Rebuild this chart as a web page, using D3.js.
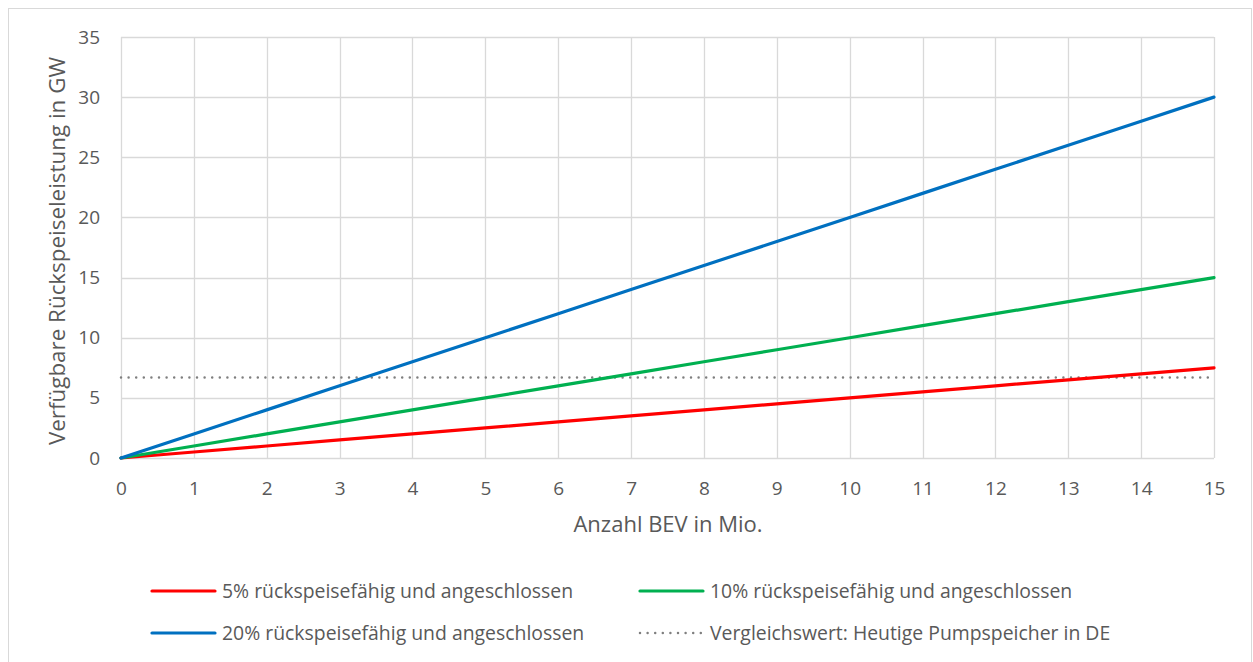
<!DOCTYPE html>
<html>
<head>
<meta charset="utf-8">
<script src="https://cdn.jsdelivr.net/npm/d3@7"></script>
<style>
  html, body { margin: 0; padding: 0; background: #fff; }
  svg { display: block; }
  text { font-family: "Open Sans", "Noto Sans", sans-serif; fill: #595959; }
</style>
</head>
<body>
<svg id="chart" width="1253" height="662"></svg>
<script>
// ---- Data ----
const xValues = [0, 1, 2, 3, 4, 5, 6, 7, 8, 9, 10, 11, 12, 13, 14, 15];
const series5 = [0, 0.5, 1, 1.5, 2, 2.5, 3, 3.5, 4, 4.5, 5, 5.5, 6, 6.5, 7, 7.5];
const series10 = [0, 1, 2, 3, 4, 5, 6, 7, 8, 9, 10, 11, 12, 13, 14, 15];
const series20 = [0, 2, 4, 6, 8, 10, 12, 14, 16, 18, 20, 22, 24, 26, 28, 30];
const referenceValue = 6.7;
const seriesNames = [
  "5% rückspeisefähig und angeschlossen",
  "10% rückspeisefähig und angeschlossen",
  "20% rückspeisefähig und angeschlossen",
  "Vergleichswert: Heutige Pumpspeicher in DE"
];
const xTicks = [0, 1, 2, 3, 4, 5, 6, 7, 8, 9, 10, 11, 12, 13, 14, 15];
const yTicks = [0, 5, 10, 15, 20, 25, 30, 35];
const xTitle = "Anzahl BEV in Mio.";
const yTitle = "Verfügbare Rückspeiseleistung in GW";

// ---- Layout ----
const svg = d3.select("#chart");
const W = 1253, H = 662;
const plot = { left: 121, right: 1214, top: 37, bottom: 458 };

svg.append("rect")
  .attr("x", 8.5).attr("y", 8.5)
  .attr("width", W - 10).attr("height", H - 6)
  .attr("fill", "#fff").attr("stroke", "#d9d9d9").attr("stroke-width", 1);

const x = d3.scaleLinear().domain([0, 15]).range([plot.left, plot.right]);
const y = d3.scaleLinear().domain([0, 35]).range([plot.bottom, plot.top]);

// gridlines
const grid = svg.append("g");
grid.selectAll("line.v").data(xTicks).enter().append("line")
  .attr("x1", d => Math.round(x(d)) + 0.5).attr("x2", d => Math.round(x(d)) + 0.5)
  .attr("y1", plot.top).attr("y2", plot.bottom)
  .attr("stroke", "#d9d9d9").attr("stroke-width", 1.3);
grid.selectAll("line.h").data(yTicks).enter().append("line")
  .attr("y1", d => Math.round(y(d)) + 0.5).attr("y2", d => Math.round(y(d)) + 0.5)
  .attr("x1", plot.left).attr("x2", plot.right)
  .attr("stroke", "#d9d9d9").attr("stroke-width", 1.3);

// axes (labels only)
const xAxis = d3.axisBottom(x).tickValues(xTicks).tickSize(0).tickPadding(30).tickFormat(d3.format("d"));
const gx = svg.append("g").attr("transform", `translate(0,${plot.bottom})`).call(xAxis);
gx.select(".domain").remove();
gx.selectAll("text").style("font-size", "19px").attr("fill", "#595959").attr("dy", "0.35em");

const yAxis = d3.axisLeft(y).tickValues(yTicks).tickSize(0).tickPadding(21).tickFormat(d3.format("d"));
const gy = svg.append("g").attr("transform", `translate(${plot.left},0)`).call(yAxis);
gy.select(".domain").remove();
gy.selectAll("text").style("font-size", "19px").attr("fill", "#595959");

// axis titles
svg.append("text").attr("x", 668).attr("y", 524).attr("dy", "0.35em")
  .attr("text-anchor", "middle").style("font-size", "22px").text(xTitle);
svg.append("text").attr("transform", `translate(57,251) rotate(-90)`)
  .attr("dy", "0.35em")
  .attr("text-anchor", "middle").style("font-size", "22.4px").text(yTitle);

// reference line
svg.append("line")
  .attr("x1", plot.left).attr("x2", plot.right)
  .attr("y1", y(referenceValue)).attr("y2", y(referenceValue))
  .attr("stroke", "#7f7f7f").attr("stroke-width", 2.5)
  .attr("stroke-dasharray", "0 7.6").attr("stroke-linecap", "round");

// series lines
const colors = ["#ff0000", "#00b050", "#0070c0"];
const allSeries = [series5, series10, series20];
const line = d3.line().x((d, i) => x(xValues[i])).y(d => y(d));
allSeries.forEach((s, i) => {
  svg.append("path").datum(s)
    .attr("d", line).attr("fill", "none")
    .attr("stroke", colors[i]).attr("stroke-width", 3.2)
    .attr("stroke-linecap", "round").attr("stroke-linejoin", "round");
});

// legend
const legendItems = [
  { name: seriesNames[0], color: colors[0], dotted: false, x: 152, y: 591 },
  { name: seriesNames[1], color: colors[1], dotted: false, x: 640, y: 591 },
  { name: seriesNames[2], color: colors[2], dotted: false, x: 152, y: 633 },
  { name: seriesNames[3], color: "#7f7f7f", dotted: true, x: 640, y: 633 }
];
const lg = svg.append("g");
legendItems.forEach(it => {
  const l = lg.append("line")
    .attr("x1", it.x).attr("x2", it.x + 63)
    .attr("y1", it.y).attr("y2", it.y)
    .attr("stroke", it.color)
    .attr("stroke-linecap", "round");
  if (it.dotted) {
    l.attr("stroke-width", 2.5).attr("stroke-dasharray", "0 7.6");
  } else {
    l.attr("stroke-width", 3.2);
  }
  lg.append("text").attr("x", it.x + 70).attr("y", it.y).attr("dy", "0.35em")
    .style("font-size", "19.4px").text(it.name);
});
</script>
</body>
</html>
